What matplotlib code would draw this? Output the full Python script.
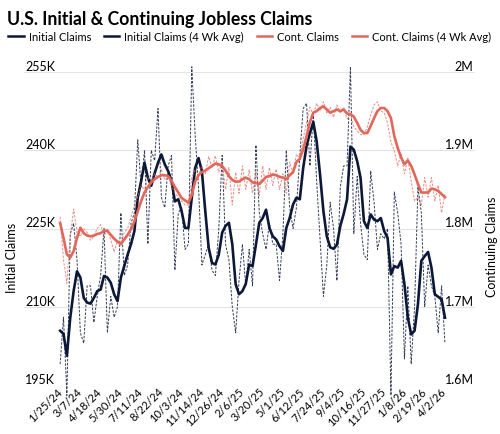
import matplotlib.pyplot as plt
import numpy as np

plt.rcParams['font.family'] = ['Lato', 'DejaVu Sans']

# weekly data, 1/25/24 -> 4/2/26 (values in thousands)
initial_claims = [
    199, 208, 193, 224, 226, 219, 205, 203, 214, 214, 207, 212, 216, 225, 205,
    212, 208, 210, 228, 216, 218, 226, 228, 242, 233, 240, 222, 240, 238, 248,
    231, 229, 237, 239, 217, 228, 229, 221, 222, 256, 243, 233, 218, 220, 222,
    217, 216, 225, 239, 222, 219, 210, 205, 215, 222, 214, 221, 214,
    241, 228, 224, 221, 226, 222, 222, 215, 224, 240, 229, 225, 229, 239, 248,
    249, 237, 247, 234, 223, 212, 218, 230, 225, 215, 233, 237, 237, 256, 224,
    235, 226, 220, 219, 236, 230, 221, 224, 223, 225, 193, 232, 228, 222,
    200, 214, 199, 210, 233, 228, 210, 218, 214, 212, 205, 214, 203,
]
initial_avg = [
    205.4, 204.8, 200.6, 207.9, 213.0, 216.8, 215.6, 211.7, 210.8, 210.6,
    211.7, 213.0, 213.3, 215.9, 215.6, 214.6, 212.4, 211.1, 215.6, 217.8,
    220.0, 222.0, 224.5, 230.9, 234.1, 237.6, 234.7, 233.2, 235.6, 237.6,
    239.2, 237.3, 236.0, 234.1, 230.2, 230.6, 228.3, 225.1, 225.1, 230.9,
    236.6, 238.5, 236.0, 228.3, 221.3, 218.4, 218.1, 220.0, 224.2, 225.5,
    226.1, 222.0, 214.3, 212.4, 213.0, 214.4, 218.1, 217.8,
    221.9, 226.1, 227.0, 228.6, 225.1, 223.5, 222.9, 221.6, 220.7, 225.1,
    227.0, 229.6, 230.9, 230.6, 236.6, 240.8, 243.3, 245.4, 241.7, 235.3,
    228.3, 223.5, 221.4, 221.1, 221.9, 225.5, 227.8, 230.6, 240.7,
    240.1, 237.9, 234.7, 226.4, 225.1, 227.7, 226.7, 226.4, 227.0, 224.5,
    223.2, 216.2, 217.8, 217.5, 218.8, 214.3, 207.9, 204.7, 205.4, 210.5,
    218.8, 219.7, 220.5, 217.5, 212.4, 211.9, 211.4, 207.9,
]
cont_claims = [
    1815, 1760, 1730, 1790, 1825, 1795, 1790, 1800, 1795, 1785, 1790, 1800,
    1805, 1790, 1800, 1785, 1770, 1785, 1780, 1795, 1800, 1815, 1830, 1840,
    1855, 1850, 1865, 1860, 1870, 1865, 1875, 1862, 1866, 1855, 1845, 1840,
    1835, 1830, 1830, 1865, 1875, 1868, 1880, 1870, 1892, 1878, 1893, 1872,
    1885, 1850, 1878, 1830, 1872, 1845, 1880, 1850, 1875, 1845, 1872, 1842,
    1880, 1850, 1878, 1855, 1876, 1850, 1870, 1845, 1885, 1870, 1895, 1890,
    1915, 1935, 1955, 1945, 1960, 1950, 1962, 1948, 1955, 1942, 1958, 1948,
    1955, 1940, 1945, 1930, 1925, 1920, 1920, 1930, 1945, 1958, 1962, 1950,
    1948, 1935, 1910, 1900, 1880, 1895, 1870, 1890, 1860, 1835, 1840, 1830,
    1865, 1840, 1865, 1835, 1855, 1820, 1845,
]
cont_avg = [
    1807, 1788, 1767, 1763, 1771, 1788, 1801, 1794, 1791, 1790, 1791, 1793,
    1794, 1797, 1797, 1792, 1787, 1783, 1780, 1786, 1792, 1799, 1809, 1822,
    1835, 1846, 1853, 1859, 1863, 1866, 1868, 1868, 1867, 1861, 1853, 1846,
    1839, 1836, 1833, 1843, 1860, 1868, 1872, 1874, 1877, 1880, 1883, 1882,
    1880, 1874, 1867, 1862, 1860, 1860, 1863, 1865, 1863, 1859, 1858, 1857,
    1861, 1866, 1867, 1869, 1868, 1866, 1865, 1863, 1868, 1872, 1885, 1889,
    1901, 1918, 1936, 1948, 1950, 1954, 1956, 1952, 1948, 1950, 1952, 1950,
    1952, 1947, 1946, 1943, 1935, 1926, 1922, 1922, 1931, 1941, 1950, 1954,
    1954, 1950, 1941, 1918, 1903, 1891, 1882, 1887, 1880, 1869, 1857, 1846,
    1846, 1846, 1851, 1850, 1848, 1844, 1840,
]
x_labels = ['1/25/24', '3/7/24', '4/18/24', '5/30/24', '7/11/24', '8/22/24',
            '10/3/24', '11/14/24', '12/26/24', '2/6/25', '3/20/25', '5/1/25',
            '6/12/25', '7/24/25', '9/4/25', '10/16/25', '11/27/25', '1/8/26',
            '2/19/26', '4/2/26']
left_ticks = [195, 210, 225, 240, 255]
left_labels = ['195K', '210K', '225K', '240K', '255K']
right_ticks = [1600, 1700, 1800, 1900, 2000]
right_labels = ['1.6M', '1.7M', '1.8M', '1.9M', '2M']

navy = '#0c1838'
salmon = '#e2675b'

weeks = np.arange(len(initial_claims))

fig = plt.figure(figsize=(5, 4.35), dpi=100)
ax = fig.add_axes([24 / 500, 1 - 386 / 435, 451 / 500, 313 / 435])
ax2 = ax.twinx()

ax.plot(weeks, initial_claims, color=navy, lw=0.7, ls=(0, (2.5, 1.5)), alpha=0.85, clip_on=False)
ax.plot(weeks, initial_avg, color=navy, lw=1.9, clip_on=False)
ax2.plot(weeks, cont_claims, color=salmon, lw=0.7, ls=(0, (2.5, 1.5)), alpha=0.75, clip_on=False)
ax2.plot(weeks, cont_avg, color=salmon, lw=1.9, clip_on=False)

ax.set_xlim(-10.7, 122.9)
ax.set_ylim(195, 255)
ax2.set_ylim(1600, 2000)

ax.set_xticks(weeks[::6], labels=x_labels)
ax.tick_params(axis='x', length=0, pad=3, labelsize=8)
plt.setp(ax.get_xticklabels(), rotation=45, ha='right', va='center', rotation_mode='anchor')

ax.set_yticks(left_ticks, labels=left_labels)
ax.tick_params(axis='y', length=0, pad=-1, labelsize=9)
plt.setp(ax.get_yticklabels(), ha='left', va='bottom')
ax2.set_yticks(right_ticks, labels=right_labels)
ax2.tick_params(axis='y', length=0, pad=-1, labelsize=9)
plt.setp(ax2.get_yticklabels(), ha='right', va='bottom')

ax.grid(axis='y', color='#e4e4e4', lw=0.8)
ax.set_axisbelow(True)
for a in (ax, ax2):
    for s in a.spines.values():
        s.set_visible(False)

ax.set_ylabel('Initial Claims', fontsize=9)
ax.yaxis.set_label_coords(-0.014, 0.41)
ax2.set_ylabel('Continuing Claims', fontsize=9)
ax2.yaxis.set_label_coords(1.025, 0.445)

fig.text(7 / 500, 1 - 19.5 / 435, 'U.S. Initial & Continuing Jobless Claims',
         fontsize=12.7, fontweight='bold', va='center', ha='left')

handles = [
    plt.Line2D([], [], color=navy, lw=1.8),
    plt.Line2D([], [], color=navy, lw=1.8),
    plt.Line2D([], [], color=salmon, lw=1.8),
    plt.Line2D([], [], color=salmon, lw=1.8),
]
fig.legend(handles, ['Initial Claims', 'Initial Claims (4 Wk Avg)', 'Cont. Claims',
                     'Cont. Claims (4 Wk Avg)'],
           loc='center left', bbox_to_anchor=(8 / 500, 1 - 37.5 / 435), ncol=4,
           frameon=False, fontsize=8, handlelength=1.4, handletextpad=0.45,
           columnspacing=1.15, borderaxespad=0, borderpad=0)

fig.savefig('out.png', dpi=100)
